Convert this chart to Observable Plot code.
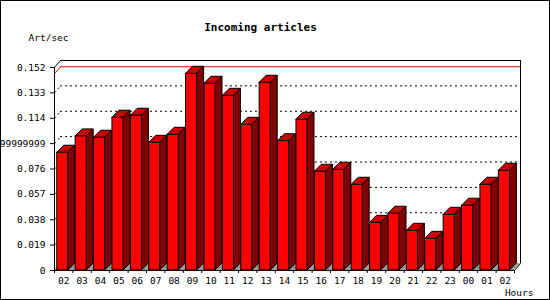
<!DOCTYPE html>
<html><head><meta charset="utf-8">
<script src="https://cdn.jsdelivr.net/npm/d3@7"></script>
<script src="https://cdn.jsdelivr.net/npm/@observablehq/plot@0.6"></script>
<style>
html,body{margin:0;padding:0;background:#fff;}
#wrap{position:relative;width:550px;height:300px;overflow:hidden;background:#fff;}
#border{position:absolute;left:0;top:0;width:550px;height:300px;box-sizing:border-box;border:1px solid #000;pointer-events:none;}
</style></head><body>
<div id="wrap"><div id="chart"></div><div id="border"></div></div>
<script>
// ---- data ----
const hours = ["02","03","04","05","06","07","08","09","10","11","12","13","14","15","16","17","18","19","20","21","22","23","00","01","02"];
const rates = [0.0882,0.1004,0.0994,0.1144,0.1159,0.0956,0.1016,0.1473,0.1398,0.1308,0.1091,0.1406,0.0968,0.1129,0.0739,0.0754,0.0642,0.0357,0.0425,0.0297,0.0237,0.0417,0.0485,0.0642,0.0747];
const yTicks = [0,0.019,0.038,0.057,0.076,0.095,0.114,0.133,0.152];
const yTickLabels = ["0","0.019","0.038","0.057","0.076","0.0949999999999","0.114","0.133","0.152"];
const gridValues = [0.019,0.038,0.057,0.076,0.095,0.114,0.133];
const title = "Incoming articles";
const yLabel = "Art/sec";
const xLabel = "Hours";

// ---- layout ----
const W = 550, H = 300, mL = 54, mR = 36, mT = 67, mB = 30;
const N = hours.length;
const yMax = yTicks[yTicks.length - 1];
const pxX = (W - mL - mR) / N;
const pxY = (H - mT - mB) / yMax;
const wallDxPx = 6, wallDyPx = 7, barDepthPx = 7;
const wallDX = wallDxPx / pxX, wallDY = wallDyPx / pxY;
const barDX = barDepthPx / pxX, barDY = barDepthPx / pxY;
const f0 = 0.15, f1 = 0.75;
const peak = d3.max(rates);

const bars = rates.map((v, i) => ({i, v, h: hours[i]}));
const sidePts = bars.flatMap(d => [
  {i: d.i, x: d.i + f1, y1: 0, y2: d.v},
  {i: d.i, x: d.i + f1 + barDX, y1: barDY, y2: d.v + barDY}
]);
const topPts = bars.flatMap(d => [
  {i: d.i, y: d.v, x1: d.i + f0, x2: d.i + f1},
  {i: d.i, y: d.v + barDY, x1: d.i + f0 + barDX, x2: d.i + f1 + barDX}
]);
const floorPts = [
  {x: 0, y1: 0, y2: 0},
  {x: wallDX, y1: 0, y2: wallDY},
  {x: N, y1: 0, y2: wallDY},
  {x: N + wallDX, y1: wallDY, y2: wallDY}
];

const chart = Plot.plot({
  width: W, height: H,
  marginLeft: mL, marginRight: mR, marginTop: mT, marginBottom: mB,
  x: {type: "linear", domain: [0, N]},
  y: {type: "linear", domain: [0, yMax]},
  style: {fontFamily: "'DejaVu Sans Mono', monospace", fontSize: "9.5px", background: "#fff", color: "#000"},
  marks: [
    // back wall
    Plot.ruleY([yMax], {x1: 0, x2: N, dx: wallDxPx, dy: -wallDyPx, stroke: "#000"}),
    Plot.ruleX([N], {y1: 0, y2: yMax, dx: wallDxPx, dy: -wallDyPx, stroke: "#000"}),
    Plot.ruleY(gridValues, {x1: 0, x2: N, dx: wallDxPx, dy: -wallDyPx, stroke: "#000", strokeDasharray: "2,3"}),
    Plot.link(gridValues, {x1: 0, y1: d => d, x2: wallDX, y2: d => d + wallDY, stroke: "#000", strokeDasharray: "2,3"}),
    Plot.ruleY([peak], {x1: 0, x2: N, dx: wallDxPx, dy: -wallDyPx, stroke: "#e00000"}),
    Plot.link([peak], {x1: 0, y1: d => d, x2: wallDX, y2: d => d + wallDY, stroke: "#e00000"}),
    // floor
    Plot.areaY(floorPts, {x: "x", y1: "y1", y2: "y2", fill: "#999999"}),
    Plot.link([0], {x1: N, y1: 0, x2: N + wallDX, y2: wallDY, stroke: "#000"}),
    Plot.link([0], {x1: 0, y1: yMax, x2: wallDX, y2: yMax + wallDY, stroke: "#000"}),
    // bars
    Plot.areaY(sidePts, {x: "x", y1: "y1", y2: "y2", z: "i", fill: "#800000", stroke: "#000"}),
    Plot.areaX(topPts, {y: "y", x1: "x1", x2: "x2", z: "i", fill: "#c80000", stroke: "#000"}),
    Plot.rect(bars, {x1: d => d.i + f0, x2: d => d.i + f1, y1: 0, y2: "v", fill: "#ff0000", stroke: "#000"}),
    // axes
    Plot.ruleY([0], {x1: 0, x2: N, stroke: "#000"}),
    Plot.ruleX([0], {y1: 0, y2: yMax, stroke: "#000"}),
    Plot.axisY({ticks: yTicks, tickSize: 4, tickPadding: 5, label: null,
      tickFormat: d => yTickLabels[yTicks.indexOf(d)]}),
    Plot.axisX({ticks: d3.range(N + 1), tickSize: 3, tickFormat: () => "", label: null}),
    Plot.axisX({ticks: d3.range(N).map(i => i + 0.5), tickSize: 0, tickPadding: 7, label: null,
      tickFormat: d => hours[Math.floor(d)]}),
    // titles
    Plot.text([title], {text: d => d, frameAnchor: "top-left", dx: 260 - mL, dy: 27 - mT,
      textAnchor: "middle", lineAnchor: "middle", fontWeight: "bold", fontSize: 11}),
    Plot.text([yLabel], {text: d => d, frameAnchor: "top-left", dx: 28 - mL, dy: 37 - mT,
      textAnchor: "start", lineAnchor: "middle"}),
    Plot.text([xLabel], {text: d => d, frameAnchor: "bottom-right", dx: 533 - (W - mR), dy: 292 - (H - mB),
      textAnchor: "end", lineAnchor: "middle"})
  ]
});
document.getElementById("chart").appendChild(chart);
</script>
</body></html>
